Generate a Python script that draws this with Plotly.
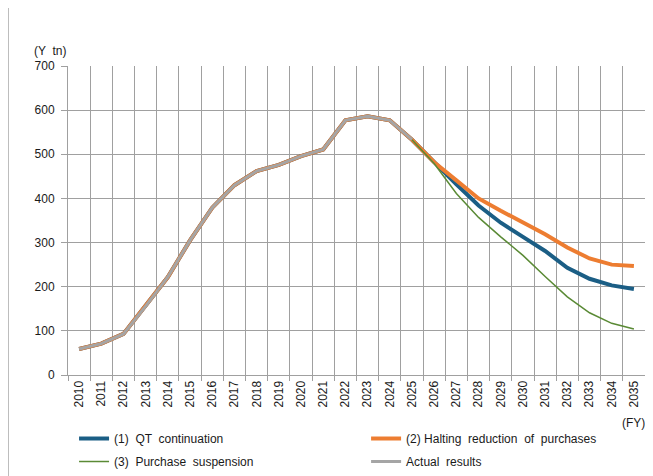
import plotly.graph_objects as go

years = list(range(2010, 2036))
year_labels = [str(y) for y in years]

actual_years = list(range(2010, 2026))
actual = [59, 71, 93, 156, 222, 305, 379, 430, 462, 476, 496, 511, 577, 586, 577, 533]

proj_years = list(range(2025, 2036))
qt_continuation = [533, 481, 432, 384, 345, 313, 281, 243, 218, 203, 195]
halting_reduction = [533, 482, 441, 400, 372, 345, 319, 289, 264, 250, 247]
purchase_suspension = [533, 479, 411, 357, 313, 271, 223, 177, 141, 117, 104]

y_ticks = [0, 100, 200, 300, 400, 500, 600, 700]

FONT = "Liberation Sans, Arial, sans-serif"
GRID = "#A0A0A0"

hist_years = actual_years[:-1]
hist_vals = actual[:-1]

fig = go.Figure()
fig.add_trace(go.Scatter(
    x=hist_years + proj_years, y=hist_vals + qt_continuation, mode="lines",
    name="(1)  QT  continuation", line=dict(color="#1B5E85", width=4),
    legend="legend", legendgroup="a", legendrank=1))
fig.add_trace(go.Scatter(
    x=hist_years + proj_years, y=hist_vals + halting_reduction, mode="lines",
    name="(2) Halting  reduction  of  purchases", line=dict(color="#ED7D31", width=4),
    legend="legend2", legendgroup="b", legendrank=1))
fig.add_trace(go.Scatter(
    x=actual_years, y=actual, mode="lines",
    name="Actual  results", line=dict(color="#A5A5A5", width=3),
    legend="legend2", legendgroup="c", legendrank=2))
fig.add_trace(go.Scatter(
    x=proj_years, y=purchase_suspension, mode="lines",
    name="(3)  Purchase  suspension", line=dict(color="#5A8A35", width=1.5),
    legend="legend", legendgroup="d", legendrank=2))

fig.update_layout(
    width=653, height=476,
    margin=dict(l=60, r=16, t=58, b=109, autoexpand=False),
    paper_bgcolor="white", plot_bgcolor="white",
    font=dict(family=FONT, size=12, color="#1a1a1a"),
    showlegend=True,
    legend=dict(x=0.0105, y=-0.1586, xanchor="left", yanchor="top", orientation="v",
                tracegroupgap=4, itemwidth=30, font=dict(size=12),
                bgcolor="rgba(0,0,0,0)"),
    legend2=dict(x=0.5166, y=-0.1586, xanchor="left", yanchor="top", orientation="v",
                 tracegroupgap=4, itemwidth=30, font=dict(size=12),
                 bgcolor="rgba(0,0,0,0)"),
    xaxis=dict(
        range=[2009.5, 2035.5], tickmode="array", tickvals=years, ticktext=year_labels,
        tickangle=-90, showgrid=False, ticks="", showline=True, linecolor=GRID,
        linewidth=1, zeroline=False, tickfont=dict(size=12), automargin=False,
        minor=dict(tickmode="array", tickvals=[y - 0.5 for y in years] + [2035.5],
                   showgrid=True, gridcolor=GRID, gridwidth=1, ticks="outside",
                   ticklen=5, tickcolor=GRID),
        fixedrange=True,
    ),
    yaxis=dict(
        range=[0, 700], tickmode="array", tickvals=y_ticks, showgrid=True,
        gridcolor=GRID, gridwidth=1, ticks="outside", ticklen=6, tickcolor=GRID,
        showline=True, linecolor=GRID, linewidth=1, zeroline=False, automargin=False,
        tickfont=dict(size=12), ticklabelstandoff=4, fixedrange=True,
    ),
    annotations=[
        dict(text="(Y  tn)", xref="paper", yref="paper", x=-0.0312, y=1.0485,
             xanchor="center", yanchor="middle", showarrow=False,
             font=dict(size=12)),
        dict(text="(FY)", xref="paper", yref="paper", x=1.004, y=-0.1553,
             xanchor="right", yanchor="middle", showarrow=False, font=dict(size=12)),
    ],
    shapes=[
        dict(type="line", xref="paper", yref="paper", x0=-0.104, x1=1.2,
             y0=1.197, y1=1.197, line=dict(color="#A6A6A6", width=1.5)),
        dict(type="line", xref="paper", yref="paper", x0=-0.104, x1=-0.104,
             y0=1.197, y1=-0.5, line=dict(color="#A6A6A6", width=1.5)),
    ],
)

fig.write_html("out.html")
